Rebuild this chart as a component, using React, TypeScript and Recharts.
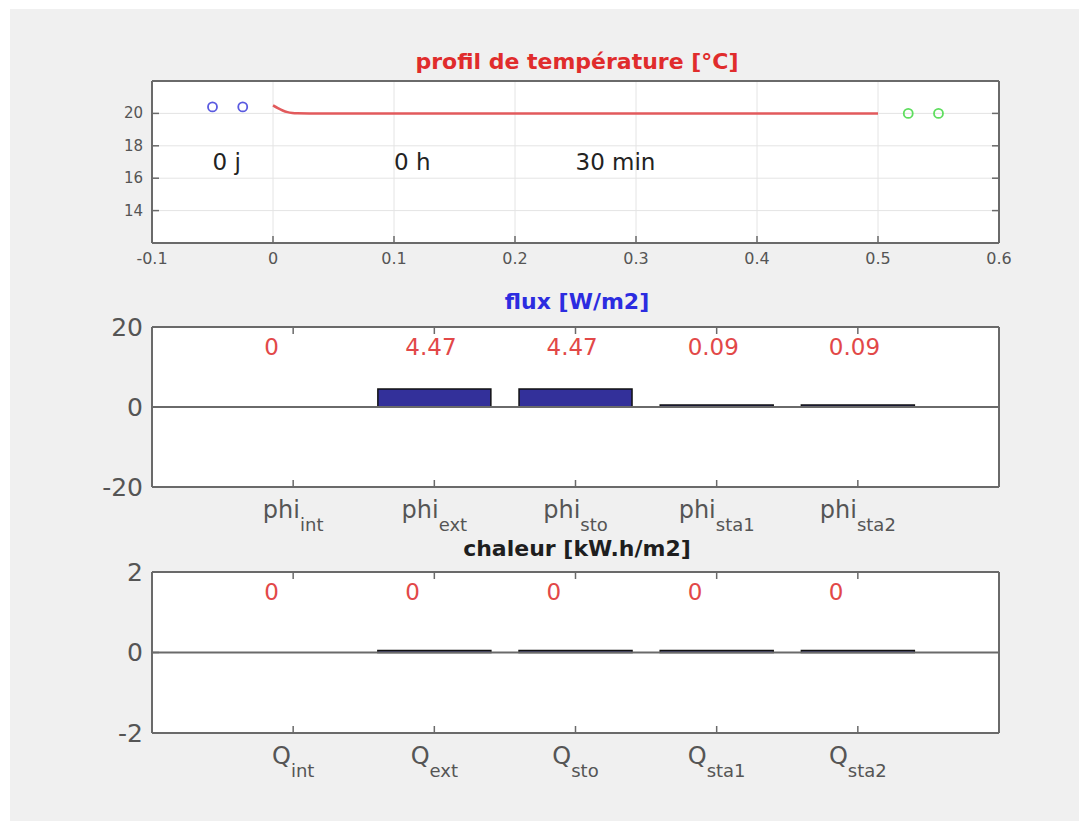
import React from 'react';
import {
  ComposedChart,
  Line,
  Scatter,
  Bar,
  XAxis,
  YAxis,
  CartesianGrid,
  ReferenceLine,
} from 'recharts';

// ---------- data ----------
// temperature profile
const profileX = [0, 0.004, 0.008, 0.012, 0.016, 0.02, 0.03, 0.5];
const profileT = [20.5, 20.33, 20.18, 20.08, 20.03, 20.01, 20.0, 20.0];
const interiorX = [-0.05, -0.025];
const interiorT = [20.4, 20.4];
const exteriorX = [0.525, 0.55];
const exteriorT = [20, 20];
const timeLabels = ['0 j', '0 h', '30 min'];
const timeLabelX = [-0.05, 0.1, 0.25];
const timeLabelT = [17, 17, 17];
const tempXTicks = [-0.1, 0, 0.1, 0.2, 0.3, 0.4, 0.5, 0.6];
const tempYTicks = [14, 16, 18, 20];
const tempXDomain = [-0.1, 0.6];
const tempYDomain = [12, 22];

// flux
const fluxBase = 'phi';
const heatBase = 'Q';
const subNames = ['int', 'ext', 'sto', 'sta1', 'sta2'];
const fluxValues = [0, 4.47, 4.47, 0.09, 0.09];
const fluxTicks = [-20, 0, 20];
const fluxDomain = [-20, 20];
const fluxLabelLevel = 15;

// heat
const heatValues = [0, 0.0022, 0.0022, 0.00005, 0.00005];
const heatTicks = [-2, 0, 2];
const heatDomain = [-2, 2];
const heatLabelLevel = 1.5;

const titles = ['profil de température [°C]', 'flux [W/m2]', 'chaleur [kW.h/m2]'];

// ---------- styles ----------
const FONT = '"DejaVu Sans", "Liberation Sans", sans-serif';
const AXIS = '#6a6a6a';
const TICK_TEXT = '#555555';
const GRID = '#e4e4e4';
const BAR_FILL = '#33309a';
const VALUE_RED = '#e24848';
const TICK_LEN = 7;
const VALUE_LABEL_SHIFT = 29;

const W = 1069;
const PLOT_LEFT = 142;
const PLOT_W = 847;
const CAT_PAD = PLOT_W / 12;

const fmtValue = (v: number) => String(Math.round(v * 100) / 100);

const fluxData = subNames.map((s, i) => ({ name: `${fluxBase}_${s}`, v: fluxValues[i] }));
const heatData = subNames.map((s, i) => ({ name: `${heatBase}_${s}`, v: heatValues[i] }));
const profileData = profileX.map((x, i) => ({ x, y: profileT[i] }));
const interiorData = interiorX.map((x, i) => ({ x, y: interiorT[i] }));
const exteriorData = exteriorX.map((x, i) => ({ x, y: exteriorT[i] }));
const timeData = timeLabels.map((t, i) => ({ x: timeLabelX[i], y: timeLabelT[i], label: t }));

// ---------- tick renderers ----------
const xTick = (side: 'bottom' | 'top', label: null | ((v: any) => React.ReactNode)) => (p: any) => {
  const dir = side === 'bottom' ? -1 : 1;
  return (
    <g key={`${side}-${p.index}`}>
      <line x1={p.x} y1={p.y} x2={p.x} y2={p.y + dir * TICK_LEN} stroke={AXIS} strokeWidth={1.5} />
      {label ? label(p) : null}
    </g>
  );
};

const yTick = (side: 'left' | 'right', fontSize: number) => (p: any) => {
  const dir = side === 'left' ? 1 : -1;
  return (
    <g key={`${side}-${p.index}`}>
      <line x1={p.x} y1={p.y} x2={p.x + dir * TICK_LEN} y2={p.y} stroke={AXIS} strokeWidth={1.5} />
      {side === 'left' ? (
        <text
          x={p.x - 9}
          y={p.y}
          textAnchor="end"
          dominantBaseline="central"
          fontSize={fontSize}
          fill={TICK_TEXT}
          fontFamily={FONT}
        >
          {String(p.payload.value)}
        </text>
      ) : null}
    </g>
  );
};

const numLabel = (p: any) => (
  <text x={p.x} y={p.y + 21} textAnchor="middle" fontSize={16} fill={TICK_TEXT} fontFamily={FONT}>
    {String(p.payload.value)}
  </text>
);

const subLabel = (p: any) => {
  const [base, sub] = String(p.payload.value).split('_');
  return (
    <text x={p.x} y={p.y + 31} textAnchor="middle" fontSize={24} fill={TICK_TEXT} fontFamily={FONT}>
      <tspan>{base}</tspan>
      <tspan fontSize={18} dy={13}>
        {sub}
      </tspan>
    </text>
  );
};

const valueLabel = (values: number[]) => (p: any) => {
  if (p.cx == null || p.cy == null) return <g key={`vl-${p.index}`} />;
  return (
    <text
      key={`vl-${p.index}`}
      x={p.cx - VALUE_LABEL_SHIFT}
      y={p.cy}
      textAnchor="start"
      dominantBaseline="central"
      fontSize={23}
      fill={VALUE_RED}
      fontFamily={FONT}
    >
      {fmtValue(values[p.index])}
    </text>
  );
};

const circleShape = (color: string) => (p: any) => (
  <circle cx={p.cx} cy={p.cy} r={4.5} fill="none" stroke={color} strokeWidth={1.8} />
);

const textShape = (p: any) => (
  <text x={p.cx} y={p.cy} dominantBaseline="central" fontSize={23} fill="#222" fontFamily={FONT}>
    {p.payload.label}
  </text>
);

// ---------- charts ----------
function TempChart() {
  return (
    <ComposedChart
      width={W}
      height={290}
      margin={{ top: 71, right: 79, bottom: 26, left: PLOT_LEFT - 60 }}
    >
      <CartesianGrid stroke={GRID} strokeWidth={1} fill="#ffffff" />
      <XAxis
        dataKey="x"
        type="number"
        domain={tempXDomain}
        ticks={tempXTicks}
        allowDataOverflow
        interval={0}
        height={30}
        tickSize={0}
        tickMargin={0}
        tickLine={false}
        axisLine={{ stroke: AXIS, strokeWidth: 2 }}
        tick={xTick('bottom', numLabel)}
      />
      <XAxis
        xAxisId="top"
        orientation="top"
        type="number"
        domain={tempXDomain}
        ticks={tempXTicks}
        allowDataOverflow
        interval={0}
        height={1}
        tickSize={0}
        tickMargin={0}
        tickLine={false}
        axisLine={{ stroke: AXIS, strokeWidth: 2 }}
        tick={xTick('top', null)}
      />
      <YAxis
        dataKey="y"
        type="number"
        domain={tempYDomain}
        ticks={tempYTicks}
        allowDataOverflow
        interval={0}
        width={60}
        tickSize={0}
        tickMargin={0}
        tickLine={false}
        axisLine={{ stroke: AXIS, strokeWidth: 2 }}
        tick={yTick('left', 15)}
      />
      <YAxis
        yAxisId="right"
        orientation="right"
        type="number"
        domain={tempYDomain}
        ticks={tempYTicks}
        allowDataOverflow
        interval={0}
        width={1}
        tickSize={0}
        tickMargin={0}
        tickLine={false}
        axisLine={{ stroke: AXIS, strokeWidth: 2 }}
        tick={yTick('right', 15)}
      />
      <Line
        data={profileData}
        dataKey="y"
        type="monotone"
        stroke="#e25a5c"
        strokeWidth={2.5}
        dot={false}
        activeDot={false}
        isAnimationActive={false}
      />
      <Scatter data={interiorData} dataKey="y" shape={circleShape('#5a5ae0')} isAnimationActive={false} />
      <Scatter data={exteriorData} dataKey="y" shape={circleShape('#5ede5e')} isAnimationActive={false} />
      <Scatter data={timeData} dataKey="y" shape={textShape} isAnimationActive={false} />
    </ComposedChart>
  );
}

function BarPanel({
  data,
  values,
  ticks,
  domain,
  labelLevel,
  height,
  bottom,
  axisHeight,
}: {
  data: any[];
  values: number[];
  ticks: number[];
  domain: number[];
  labelLevel: number;
  height: number;
  bottom: number;
  axisHeight: number;
}) {
  return (
    <ComposedChart
      width={W}
      height={height}
      data={data}
      barCategoryGap="10%"
      margin={{ top: 37, right: 79, bottom, left: PLOT_LEFT - 60 }}
    >
      <CartesianGrid horizontal={false} vertical={false} fill="#ffffff" />
      <XAxis
        dataKey="name"
        type="category"
        padding={{ left: CAT_PAD, right: CAT_PAD }}
        interval={0}
        height={axisHeight}
        tickSize={0}
        tickMargin={0}
        tickLine={false}
        axisLine={{ stroke: AXIS, strokeWidth: 2 }}
        tick={xTick('bottom', subLabel)}
      />
      <XAxis
        xAxisId="top"
        orientation="top"
        dataKey="name"
        type="category"
        padding={{ left: CAT_PAD, right: CAT_PAD }}
        interval={0}
        height={1}
        tickSize={0}
        tickMargin={0}
        tickLine={false}
        axisLine={{ stroke: AXIS, strokeWidth: 2 }}
        tick={xTick('top', null)}
      />
      <YAxis
        type="number"
        domain={domain}
        ticks={ticks}
        allowDataOverflow
        interval={0}
        width={60}
        tickSize={0}
        tickMargin={0}
        tickLine={false}
        axisLine={{ stroke: AXIS, strokeWidth: 2 }}
        tick={yTick('left', 25)}
      />
      <YAxis
        yAxisId="right"
        orientation="right"
        type="number"
        domain={domain}
        ticks={ticks}
        allowDataOverflow
        width={1}
        tick={false}
        tickLine={false}
        axisLine={{ stroke: AXIS, strokeWidth: 2 }}
      />
      <ReferenceLine y={0} stroke={AXIS} strokeWidth={2} />
      <Bar
        dataKey="v"
        fill={BAR_FILL}
        stroke="#111"
        strokeWidth={1.5}
        minPointSize={(v: number) => (v === 0 ? 0 : 2)}
        isAnimationActive={false}
      />
      <Line
        dataKey={() => labelLevel}
        stroke="none"
        dot={valueLabel(values)}
        activeDot={false}
        isAnimationActive={false}
      />
    </ComposedChart>
  );
}

const titleStyle = (top: number, color: string): React.CSSProperties => ({
  position: 'absolute',
  left: 267,
  width: 600,
  top,
  height: 30,
  lineHeight: '30px',
  textAlign: 'center',
  fontFamily: FONT,
  fontWeight: 'bold',
  fontSize: 22,
  color,
});

export default function App() {
  return (
    <div
      style={{
        position: 'absolute',
        left: 10,
        top: 9,
        width: W,
        height: 812,
        background: '#f0f0f0',
        fontFamily: FONT,
        overflow: 'hidden',
      }}
    >
      <div style={{ position: 'absolute', left: 0, top: 0 }}>
        <TempChart />
      </div>
      <div style={{ position: 'absolute', left: 0, top: 280 }}>
        <BarPanel
          data={fluxData}
          values={fluxValues}
          ticks={fluxTicks}
          domain={fluxDomain}
          labelLevel={fluxLabelLevel}
          height={256}
          bottom={8}
          axisHeight={50}
        />
      </div>
      <div style={{ position: 'absolute', left: 0, top: 525 }}>
        <BarPanel
          data={heatData}
          values={heatValues}
          ticks={heatTicks}
          domain={heatDomain}
          labelLevel={heatLabelLevel}
          height={287}
          bottom={38}
          axisHeight={50}
        />
      </div>
      <div style={titleStyle(53 - 15, '#e02c2c')}>{titles[0]}</div>
      <div style={titleStyle(293 - 15, '#2c2ce0')}>{titles[1]}</div>
      <div style={titleStyle(540 - 15, '#1e1e1e')}>{titles[2]}</div>
    </div>
  );
}
